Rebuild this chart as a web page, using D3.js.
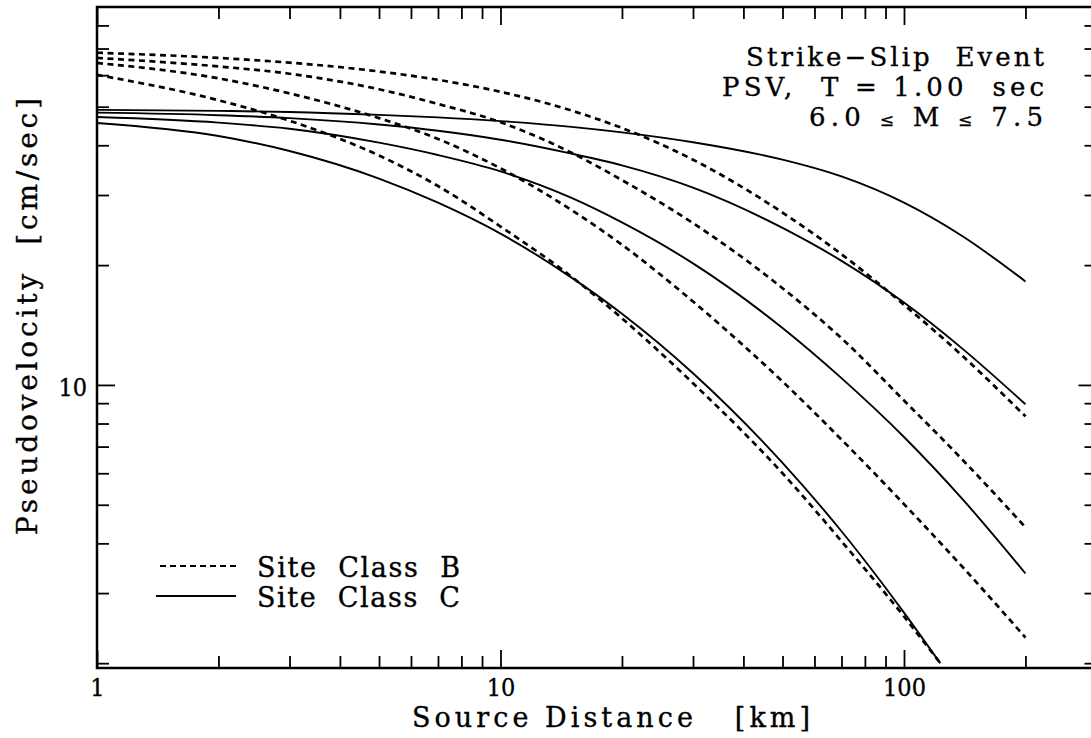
<!DOCTYPE html>
<html><head><meta charset="utf-8">
<script src="https://cdn.jsdelivr.net/npm/d3@7"></script>
<style>
html,body{margin:0;padding:0;background:#fff;}
svg{display:block;}
text{font-family:"DejaVu Serif",serif;fill:#000;white-space:pre;stroke:#000;stroke-width:0.35px;}
</style></head><body>
<svg id="chart" width="1091" height="738"></svg>
<script>
// ---- data ----
const distance    = [1,2,3,5,7,10,15,20,30,50,70,100,140,200];
const distanceM60 = [1,2,3,5,7,10,15,20,30,50,70,100,123];
const classB_M75 = [68.3,66.3,64.5,61.3,58.4,54.5,48.9,44.2,36.8,27.1,21.3,15.9,11.8,8.34];
const classB_M70 = [66.3,63.1,60.5,55.3,50.8,45.7,38.3,32.7,25.5,17.5,13.1,9.14,6.47,4.39];
const classB_M65 = [64.4,58.9,54.0,46.8,41.5,35.0,27.5,22.5,16.2,10.2,7.29,5.02,3.48,2.32];
const classB_M60 = [60.1,51.9,46.1,37.7,31.6,25.0,18.7,14.7,10.1,6.0,4.05,2.62,2.0];
const classC_M75 = [49.1,48.8,48.5,47.7,47.0,46.0,44.5,43.1,40.7,36.8,33.4,28.7,23.6,18.2];
const classC_M70 = [48.3,47.6,46.8,45.1,43.5,41.3,38.1,35.6,31.3,24.8,20.5,16.1,12.3,8.94];
const classC_M65 = [47.1,45.6,44.0,40.6,37.8,34.4,29.5,25.6,20.2,13.9,10.4,7.4,5.15,3.36];
const classC_M60 = [45.5,42.2,38.7,33.0,28.7,24.0,18.6,15.1,10.7,6.37,4.29,2.68,2.0];

const xTicksMajor = [1,10,100];
const xTicksMinor = [2,3,4,5,6,7,8,9,20,30,40,50,60,70,80,90,200];
const yTicksMajor = [10];
const yTicksMinor = [2,3,4,5,6,7,8,9,20,30,40,50,60,70,80];

const xTitle = "Source Distance   [km]";
const yTitle = "Pseudovelocity  [cm/sec]";
const noteLines = ["Strike\u2212Slip  Event", "PSV,  T = 1.00  sec"];
const legendLabels = ["Site  Class  B", "Site  Class  C"];

// ---- drawing ----
const svg = d3.select("#chart");
svg.append("rect").attr("width",1091).attr("height",738).attr("fill","#fff").attr("stroke","none");

const L = 97, T = 7, B = 668, R = 1096.5;
const FS = 27;
const x = d3.scaleLog().domain([1, 300]).range([L, R]);
const y = d3.scaleLog().domain([1.945, 89]).range([B, T]);

function style(g){
  g.select(".domain").remove();
  g.selectAll(".tick line").attr("stroke","#000").attr("stroke-width",1.8);
  g.selectAll(".tick text").attr("font-family","DejaVu Serif").attr("font-size",24).attr("fill","#000")
    .attr("textLength", d => String(d).length*14.3).attr("lengthAdjust","spacingAndGlyphs");
  g.attr("font-family", null).attr("font-size", null);
}

// bottom
svg.append("g").attr("transform",`translate(0,${B})`)
  .call(d3.axisBottom(x).tickValues(xTicksMinor).tickSize(-12).tickFormat("")).call(style);
svg.append("g").attr("transform",`translate(0,${B})`)
  .call(d3.axisBottom(x).tickValues(xTicksMajor).tickSize(-18).tickPadding(11).tickFormat(d3.format("d"))).call(style);
// top
svg.append("g").attr("transform",`translate(0,${T})`)
  .call(d3.axisTop(x).tickValues(xTicksMinor).tickSize(-12).tickFormat("")).call(style);
svg.append("g").attr("transform",`translate(0,${T})`)
  .call(d3.axisTop(x).tickValues(xTicksMajor).tickSize(-18).tickFormat("")).call(style);
// left
svg.append("g").attr("transform",`translate(${L},0)`)
  .call(d3.axisLeft(y).tickValues(yTicksMinor).tickSize(-12).tickFormat("")).call(style);
const yl = svg.append("g").attr("transform",`translate(${L},0)`)
  .call(d3.axisLeft(y).tickValues(yTicksMajor).tickSize(-18).tickPadding(10).tickFormat(d3.format("d"))).call(style);
yl.selectAll(".tick text").attr("dy","0.42em");
// right
svg.append("g").attr("transform",`translate(${R},0)`)
  .call(d3.axisRight(y).tickValues(yTicksMinor).tickSize(-12).tickFormat("")).call(style);
svg.append("g").attr("transform",`translate(${R},0)`)
  .call(d3.axisRight(y).tickValues(yTicksMajor).tickSize(-18).tickFormat("")).call(style);

// frame
svg.append("rect").attr("x",L).attr("y",T).attr("width",R-L).attr("height",B-T)
  .attr("fill","none").attr("stroke","#000").attr("stroke-width",2.5);

// curves
svg.append("clipPath").attr("id","plotclip").append("rect")
  .attr("x",L).attr("y",T).attr("width",R-L).attr("height",B-T);
const line = d3.line().x(d=>x(d[0])).y(d=>y(d[1])).curve(d3.curveMonotoneX);
const series = [
  {xs:distance, ys:classB_M75, cls:"B"},
  {xs:distance, ys:classB_M70, cls:"B"},
  {xs:distance, ys:classB_M65, cls:"B"},
  {xs:distanceM60, ys:classB_M60, cls:"B"},
  {xs:distance, ys:classC_M75, cls:"C"},
  {xs:distance, ys:classC_M70, cls:"C"},
  {xs:distance, ys:classC_M65, cls:"C"},
  {xs:distanceM60, ys:classC_M60, cls:"C"}
];
const cg = svg.append("g").attr("clip-path","url(#plotclip)");
series.forEach(s=>{
  cg.append("path").datum(s.xs.map((d,i)=>[d,s.ys[i]]))
    .attr("d",line).attr("fill","none").attr("stroke","#000")
    .attr("stroke-width", s.cls==="B"?2.7:1.9)
    .attr("stroke-dasharray", s.cls==="B"?"6,4.5":null);
});

// legend
svg.append("line").attr("x1",160).attr("x2",236).attr("y1",566).attr("y2",566)
  .attr("stroke","#000").attr("stroke-width",2).attr("stroke-dasharray","6,4");
svg.append("line").attr("x1",156).attr("x2",236).attr("y1",596).attr("y2",596)
  .attr("stroke","#000").attr("stroke-width",2);
legendLabels.forEach((t,i)=>{
  svg.append("text").attr("x",257).attr("y",577+30*i).attr("font-size",FS)
    .attr("textLength",203).attr("lengthAdjust","spacing").text(t);
});

// axis titles
svg.append("text").attr("x",412).attr("y",727).attr("font-size",FS)
  .attr("textLength",398).attr("lengthAdjust","spacing").text(xTitle);
svg.append("text").attr("transform","translate(37,535) rotate(-90)").attr("font-size",28)
  .attr("textLength",437).attr("lengthAdjust","spacing").text(yTitle);

// annotation
const NF = 26;
svg.append("text").attr("x",746).attr("y",66).attr("font-size",NF)
  .attr("textLength",298).attr("lengthAdjust","spacing").text(noteLines[0]);
svg.append("text").attr("x",722).attr("y",96).attr("font-size",NF)
  .attr("textLength",322).attr("lengthAdjust","spacing").text(noteLines[1]);
const n3 = svg.append("text").attr("x",809).attr("y",126).attr("font-size",NF)
  .attr("textLength",234).attr("lengthAdjust","spacing");
n3.append("tspan").text("6.0 ");
n3.append("tspan").attr("font-size",17).text("\u2264");
n3.append("tspan").text(" M ");
n3.append("tspan").attr("font-size",17).text("\u2264");
n3.append("tspan").text(" 7.5");
</script>
</body></html>
